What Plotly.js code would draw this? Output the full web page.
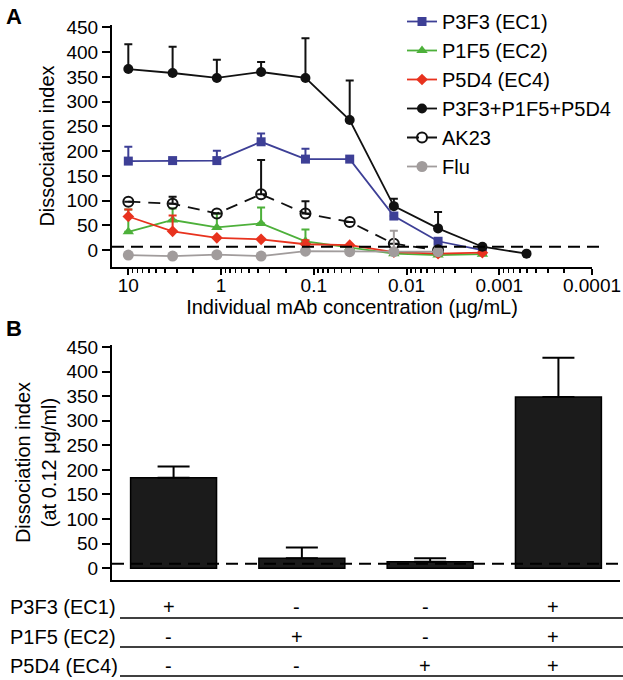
<!DOCTYPE html>
<html>
<head>
<meta charset="utf-8">
<script src="https://cdn.plot.ly/plotly-3.0.1.min.js"></script>
<style>html,body{margin:0;padding:0;background:#fff}#chart{width:623px;height:680px}</style>
</head>
<body>
<div id="chart"></div>
<script>
// ---------- Data: panel A ----------
var conc = [10, 3.33, 1.11, 0.37, 0.123, 0.041, 0.0137, 0.00457, 0.00152, 0.000508];
var seriesNames = ["P3F3 (EC1)", "P1F5 (EC2)", "P5D4 (EC4)", "P3F3+P1F5+P5D4", "AK23", "Flu"];
var p3f3 = [180, 181, 181, 219, 184, 184, 69, 18, 0];
var p3f3Err = [29, NaN, 20, 17, 21, NaN, NaN, NaN, NaN];
var p1f5 = [37, 61, 46, 54, 18, 5, -7, -10, -8];
var p1f5Err = [45, 23, 28, 32, 24, NaN, NaN, NaN, NaN];
var p5d4 = [68, 38, 25, 22, 12, 10, -4, -7, -5];
var p5d4Err = [14, 32, NaN, NaN, 8, NaN, NaN, NaN, NaN];
var combo = [366, 358, 348, 360, 348, 263, 89, 44, 7, -7];
var comboErr = [50, 53, 37, 20, 80, 80, 15, 33, NaN, NaN];
var ak23 = [98, 94, 74, 113, 74, 57, 13, 0];
var ak23Err = [NaN, 14, NaN, 69, 25, NaN, NaN, NaN];
var flu = [-10, -12, -9, -12, -2, -3, -3, -3];
var fluErr = [NaN, NaN, NaN, NaN, NaN, NaN, 42, NaN];
var baselineA = 7;
var xTickVals = [10, 1, 0.1, 0.01, 0.001, 0.0001];
var xTickText = ["10", "1", "0.1", "0.01", "0.001", "0.0001"];

// ---------- Data: panel B ----------
var barCats = [0, 1, 2, 3];
var barVals = [184, 20, 13, 348];
var barErr = [23, 22, 7, 80];
var baselineB = 9;
var tableRows = ["P3F3 (EC1)", "P1F5 (EC2)", "P5D4 (EC4)"];
var tableSigns = [
  ["+", "-", "-", "+"],
  ["-", "+", "-", "+"],
  ["-", "-", "+", "+"]
];

// ---------- Styling ----------
var FONT = "Arial, 'Liberation Sans', sans-serif";
var W = 623, H = 680;
function px(x){ return x / W; }
function py(y){ return 1 - y / H; }
function zeros(n){ var a=[]; for(var i=0;i<n;i++) a.push(0); return a; }

function lineTrace(name, ys, errs, color, symbol, size, dash, open){
  var xs = conc.slice(0, ys.length);
  return {
    type: "scatter", mode: "lines+markers", name: name,
    x: xs, y: ys, xaxis: "x", yaxis: "y",
    line: {color: color, width: 1.8, dash: dash || "solid"},
    marker: open ? {symbol: symbol, size: size, color: color, line: {color: color, width: 2}}
                 : {symbol: symbol, size: size, color: color, line: {width: 0}},
    error_y: {type: "data", symmetric: false, array: errs, arrayminus: zeros(ys.length),
              color: color, thickness: 2, width: 4},
    cliponaxis: false
  };
}

var traces = [
  lineTrace(seriesNames[0], p3f3, p3f3Err, "#3d3f96", "square", 9),
  lineTrace(seriesNames[1], p1f5, p1f5Err, "#4db03a", "triangle-up", 10),
  lineTrace(seriesNames[2], p5d4, p5d4Err, "#e8321e", "diamond", 9),
  lineTrace(seriesNames[3], combo, comboErr, "#111111", "circle", 10),
  lineTrace(seriesNames[4], ak23, ak23Err, "#111111", "circle-open", 10, "12px,8px", true),
  lineTrace(seriesNames[5], flu, fluErr, "#a19c9c", "circle", 11)
];

traces.push({
  type: "bar", x: barCats, y: barVals, xaxis: "x2", yaxis: "y2",
  width: 0.67, showlegend: false,
  marker: {color: "#1b1b1b", line: {color: "#000", width: 1.5}},
  error_y: {type: "data", symmetric: false, array: barErr, arrayminus: zeros(barVals.length),
            color: "#000", thickness: 2, width: 16}
});

// minor log ticks
var minorVals = [];
for (var k = -5; k <= 1; k++) {
  for (var m = 2; m <= 9; m++) {
    var v = m * Math.pow(10, k);
    if (v < 15 && v > 0.0001) minorVals.push(v);
  }
}

var annotations = [
  {text: "<b>A</b>", xref: "paper", yref: "paper", x: px(4), y: py(2), xanchor: "left", yanchor: "top",
   showarrow: false, font: {family: FONT, size: 22, color: "#000"}},
  {text: "<b>B</b>", xref: "paper", yref: "paper", x: px(4), y: py(314), xanchor: "left", yanchor: "top",
   showarrow: false, font: {family: FONT, size: 22, color: "#000"}}
];
var rowY = [607, 637, 666];
var lineY = [618, 647, 676];
var shapes = [
  {type: "line", xref: "paper", yref: "y", x0: px(112), x1: px(603), y0: baselineA, y1: baselineA,
   line: {color: "#000", width: 2, dash: "12px,7px"}},
  {type: "line", xref: "paper", yref: "y2", x0: px(112), x1: 1, y0: baselineB, y1: baselineB,
   line: {color: "#000", width: 2, dash: "12px,7px"}}
];
for (var r = 0; r < tableRows.length; r++) {
  annotations.push({text: tableRows[r], xref: "paper", yref: "paper", x: px(8), y: py(rowY[r]),
    xanchor: "left", yanchor: "middle", showarrow: false, font: {family: FONT, size: 20, color: "#000"}});
  for (var c = 0; c < barCats.length; c++) {
    annotations.push({text: tableSigns[r][c], xref: "x2", yref: "paper", x: barCats[c], y: py(rowY[r]),
      xanchor: "center", yanchor: "middle", xshift: -5, showarrow: false,
      font: {family: FONT, size: 20, color: "#000"}});
  }
  shapes.push({type: "line", xref: "paper", yref: "paper", x0: px(120), x1: 1,
    y0: py(lineY[r]), y1: py(lineY[r]), line: {color: "#000", width: 1.5}});
}

var axisCommon = {
  showgrid: false, zeroline: false, showline: true, linecolor: "#000", linewidth: 2,
  ticks: "outside", ticklen: 8, tickwidth: 2, tickcolor: "#000",
  tickfont: {family: FONT, size: 19, color: "#000"}
};

var layout = {
  width: W, height: H,
  margin: {l: 0, r: 0, t: 0, b: 0},
  paper_bgcolor: "#fff", plot_bgcolor: "#fff",
  font: {family: FONT, color: "#000"},
  showlegend: true,
  legend: {x: px(402), y: py(2), xanchor: "left", yanchor: "top", bgcolor: "rgba(0,0,0,0)",
           font: {family: FONT, size: 20, color: "#000"}, itemwidth: 30, tracegroupgap: 0},
  xaxis: Object.assign({}, axisCommon, {
    type: "log", domain: [px(112), px(592)], range: [1.176, -4],
    anchor: "y", tickmode: "array", tickvals: xTickVals, ticktext: xTickText,
    ticklen: 6, ticklabelstandoff: -6,
    minor: {tickmode: "array", tickvals: minorVals, ticks: "outside", ticklen: 4, tickwidth: 1.5, tickcolor: "#000"},
    title: {text: "Individual mAb concentration (µg/mL)", font: {family: FONT, size: 20, color: "#000"}, standoff: 4}
  }),
  yaxis: Object.assign({}, axisCommon, {
    domain: [py(267), py(25)], range: [-34, 455], anchor: "x",
    tickmode: "linear", tick0: 0, dtick: 50,
    title: {text: "Dissociation index", font: {family: FONT, size: 20, color: "#000"}, standoff: 6}
  }),
  xaxis2: Object.assign({}, axisCommon, {
    domain: [px(112), px(620)], range: [-0.48, 3.48], anchor: "y2",
    ticks: "", showticklabels: false
  }),
  yaxis2: Object.assign({}, axisCommon, {
    domain: [py(580), py(345)], range: [-24, 454], anchor: "x2",
    tickmode: "linear", tick0: 0, dtick: 50,
    title: {text: "Dissociation index<br>(at 0.12 μg/ml)", font: {family: FONT, size: 20, color: "#000"}, standoff: 4}
  }),
  annotations: annotations,
  shapes: shapes
};

Plotly.newPlot("chart", traces, layout, {displayModeBar: false, staticPlot: true});
</script>
</body>
</html>
